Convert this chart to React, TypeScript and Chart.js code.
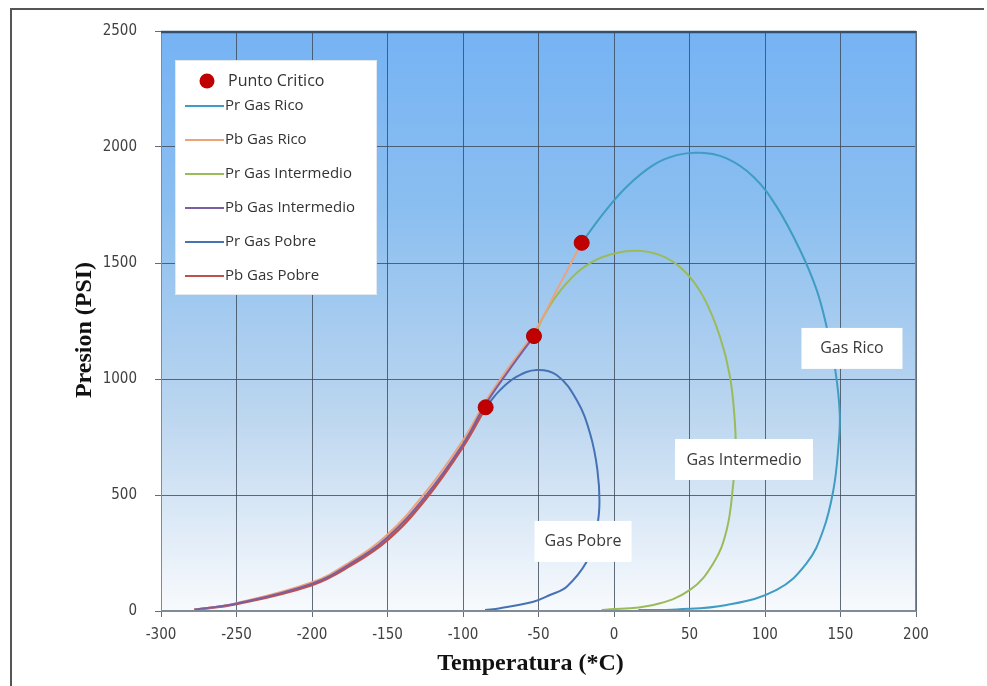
import React, { useEffect, useRef } from "react";
import { Chart, registerables } from "chart.js";
Chart.register(...registerables);

// Axis ranges / ticks
const X_MIN = -300;
const X_MAX = 200;
const X_STEP = 50;
const Y_MIN = 0;
const Y_MAX = 2500;
const Y_STEP = 500;

const xTitle = "Temperatura (*C)";
const yTitle = "Presion (PSI)";

// Critical points (Rico, Intermedio, Pobre)
const criticalT = [-21.4, -53, -85];
const criticalP = [1587, 1185, 878];

// Dew curves (Pr)
const prRicoT = [-21.4, -7, 8.4, 26, 41.5, 57, 74.6, 92.3, 107.7, 123.2, 134.2, 140.8, 146.5, 149.5, 148.5, 145.3, 138.6, 127.6, 107.7, 74.6, 41.5, 16.1];
const prRicoP = [1587, 1714, 1829, 1922, 1965, 1975, 1951, 1872, 1743, 1556, 1384, 1225, 1040, 850, 700, 522, 349, 206, 91, 26, 7, 4];

const prInterT = [-53, -45, -35, -22, -7, 12.8, 30.5, 45.9, 59.1, 70.2, 76.8, 80.1, 80.5, 79, 74.6, 65.8, 50.3, 26, -8.2];
const prInterP = [1185, 1290, 1385, 1472, 1527, 1553, 1534, 1470, 1355, 1182, 1010, 809, 680, 550, 349, 206, 91, 26, 4];

const prPobreT = [-85, -75.5, -64.4, -51.2, -38, -24.7, -15.9, -11, -9.7, -12.5, -18.1, -31.3, -42.4, -53.4, -75.5, -85.4];
const prPobreP = [878, 952, 1010, 1039, 1017, 909, 766, 608, 450, 320, 212, 105, 69, 40, 12, 4];

// Bubble curves (Pb)
const pbRicoT = [-278, -250, -200, -175, -150, -125, -100, -85, -70, -53, -38, -21.4];
const pbRicoP = [5, 34, 124, 210, 330, 510, 736, 904, 1048, 1200, 1382, 1587];

const pbInterT = [-278, -250, -200, -175, -150, -125, -100, -85, -70, -53];
const pbInterP = [5, 32, 118, 202, 318, 494, 720, 892, 1034, 1185];

const pbPobreT = [-278, -250, -200, -175, -150, -125, -100, -85];
const pbPobreP = [5, 30, 112, 194, 306, 480, 708, 878];

const legendLabels = ["Punto Critico", "Pr Gas Rico", "Pb Gas Rico", "Pr Gas Intermedio", "Pb Gas Intermedio", "Pr Gas Pobre", "Pb Gas Pobre"];
const seriesColors = ["#c00000", "#3f9cc2", "#eea27a", "#9bbb59", "#7a5fa0", "#4472b4", "#c0504d"];

const regionLabels = ["Gas Rico", "Gas Intermedio", "Gas Pobre"];
const regionLabelT = [157.6, 86.1, -20.5];
const regionLabelP = [1134, 655, 302];

const pts = (t: number[], p: number[]) => t.map((v, i) => ({ x: v, y: p[i] }));

const TICK_FONT = "'Liberation Sans Narrow', 'DejaVu Sans Condensed', 'Open Sans', sans-serif";
const LABEL_FONT = "'Open Sans', 'DejaVu Sans', sans-serif";

export default function App() {
  const ref = useRef<HTMLCanvasElement | null>(null);

  useEffect(() => {
    document.body.style.margin = "0";
    const canvas = ref.current;
    if (!canvas) return;

    const decor = {
      id: "decor",
      beforeDraw(chart: any) {
        const { ctx, chartArea: a } = chart;
        ctx.save();
        ctx.fillStyle = "#ffffff";
        ctx.fillRect(0, 0, chart.width, chart.height);
        // outer frame
        ctx.strokeStyle = "#555555";
        ctx.lineWidth = 2;
        ctx.beginPath();
        ctx.moveTo(11, 686);
        ctx.lineTo(11, 9);
        ctx.lineTo(984, 9);
        ctx.stroke();
        // plot gradient
        const g = ctx.createLinearGradient(0, a.top, 0, a.bottom);
        g.addColorStop(0, "#76b3f4");
        g.addColorStop(0.3, "#8abef0");
        g.addColorStop(0.65, "#bad5ef");
        g.addColorStop(1, "#f8fafd");
        ctx.fillStyle = g;
        ctx.fillRect(a.left, a.top, a.right - a.left, a.bottom - a.top);
        ctx.restore();
      },
      afterDraw(chart: any) {
        const { ctx, chartArea: a, scales } = chart;
        ctx.save();
        // plot border
        ctx.strokeStyle = "#7d8a98";
        ctx.lineWidth = 1;
        ctx.strokeRect(a.left + 0.5, a.top + 0.5, a.right - a.left - 1, a.bottom - a.top - 1);
        ctx.strokeStyle = "#34506e";
        ctx.lineWidth = 2.5;
        ctx.beginPath();
        ctx.moveTo(a.left, a.top + 1);
        ctx.lineTo(a.right, a.top + 1);
        ctx.stroke();

        // region labels
        const boxW = [101, 138, 97];
        ctx.font = `16px ${LABEL_FONT}`;
        ctx.textAlign = "center";
        ctx.textBaseline = "middle";
        regionLabels.forEach((txt, i) => {
          const cx = scales.x.getPixelForValue(regionLabelT[i]);
          const cy = scales.y.getPixelForValue(regionLabelP[i]);
          ctx.fillStyle = "#ffffff";
          ctx.fillRect(cx - boxW[i] / 2, cy - 20, boxW[i], 41);
          ctx.fillStyle = "#3a3a3a";
          ctx.fillText(txt, cx, cy + 1);
        });

        // legend
        const lx = a.left + 14;
        const ly = a.top + 29;
        ctx.fillStyle = "#ffffff";
        ctx.fillRect(lx, ly, 202, 235);
        ctx.strokeStyle = "#e2e8ef";
        ctx.lineWidth = 1;
        ctx.strokeRect(lx + 0.5, ly + 0.5, 201, 234);
        ctx.textAlign = "left";
        ctx.textBaseline = "middle";
        const rowY = [21, 46, 80, 114, 148, 182, 216];
        legendLabels.forEach((txt, i) => {
          const y = ly + rowY[i];
          if (i === 0) {
            ctx.fillStyle = seriesColors[0];
            ctx.beginPath();
            ctx.arc(lx + 32, y, 7.5, 0, Math.PI * 2);
            ctx.fill();
            ctx.font = `16px ${LABEL_FONT}`;
            ctx.fillStyle = "#333333";
            ctx.fillText(txt, lx + 53, y);
          } else {
            ctx.strokeStyle = seriesColors[i];
            ctx.lineWidth = 2;
            ctx.beginPath();
            ctx.moveTo(lx + 10, y);
            ctx.lineTo(lx + 49, y);
            ctx.stroke();
            ctx.font = `15px ${LABEL_FONT}`;
            ctx.fillStyle = "#333333";
            ctx.fillText(txt, lx + 50, y);
          }
        });

        // axis titles
        ctx.fillStyle = "#111111";
        ctx.font = "bold 24px 'Liberation Serif', 'DejaVu Serif', serif";
        ctx.textAlign = "center";
        ctx.textBaseline = "middle";
        ctx.fillText(xTitle, (a.left + a.right) / 2 - 8, 664);
        ctx.save();
        ctx.translate(85, (a.top + a.bottom) / 2 + 9);
        ctx.rotate(-Math.PI / 2);
        ctx.fillText(yTitle, 0, 0);
        ctx.restore();
        ctx.restore();
      },
    };

    const line = (label: string, t: number[], p: number[], color: string, width = 2) => ({
      label,
      data: pts(t, p),
      showLine: true,
      borderColor: color,
      backgroundColor: color,
      borderWidth: width,
      pointRadius: 0,
      tension: 0.4,
    });

    const tickCb = (v: any) => String(v);

    const chart = new Chart(canvas, {
      type: "scatter",
      data: {
        datasets: [
          {
            label: legendLabels[0],
            data: pts(criticalT, criticalP),
            showLine: false,
            pointRadius: 7.5,
            pointBackgroundColor: seriesColors[0],
            pointBorderColor: "#b00000",
            pointBorderWidth: 1,
          } as any,
          line(legendLabels[4], pbInterT, pbInterP, seriesColors[4]),
          line(legendLabels[2], pbRicoT, pbRicoP, seriesColors[2]),
          line(legendLabels[6], pbPobreT, pbPobreP, seriesColors[6], 2.5),
          line(legendLabels[1], prRicoT, prRicoP, seriesColors[1]),
          line(legendLabels[3], prInterT, prInterP, seriesColors[3]),
          line(legendLabels[5], prPobreT, prPobreP, seriesColors[5]),
        ],
      },
      options: {
        responsive: false,
        animation: false,
        layout: { padding: { left: 0, right: 71, top: 31, bottom: 0 } },
        plugins: {
          legend: { display: false },
          tooltip: { enabled: false },
          title: { display: false },
        },
        scales: {
          x: {
            type: "linear",
            min: X_MIN,
            max: X_MAX,
            afterFit: (s: any) => {
              s.height = 75;
            },
            ticks: {
              stepSize: X_STEP,
              color: "#404040",
              padding: 9,
              callback: tickCb,
              font: { family: TICK_FONT, size: 15 },
            },
            grid: {
              color: "rgba(60,72,88,0.8)",
              lineWidth: 1,
              tickLength: 6,
            },
            border: { color: "#8a8a8a", width: 1 },
          },
          y: {
            type: "linear",
            min: Y_MIN,
            max: Y_MAX,
            afterFit: (s: any) => {
              s.width = 161;
            },
            ticks: {
              stepSize: Y_STEP,
              color: "#404040",
              padding: 18,
              callback: tickCb,
              font: { family: TICK_FONT, size: 15 },
            },
            grid: {
              color: "rgba(60,72,88,0.8)",
              lineWidth: 1,
              tickLength: 6,
            },
            border: { color: "#8a8a8a", width: 1 },
          },
        },
      },
      plugins: [decor],
    } as any);

    return () => chart.destroy();
  }, []);

  return (
    <div style={{ width: 987, height: 686 }}>
      <canvas ref={ref} width={987} height={686} style={{ display: "block" }} />
    </div>
  );
}
